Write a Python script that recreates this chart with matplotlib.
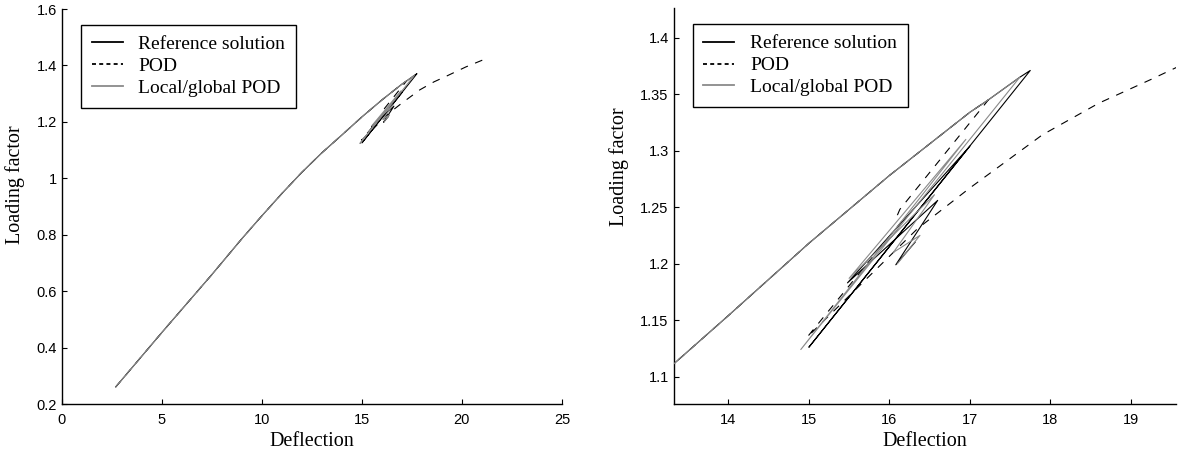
import numpy as np
import matplotlib
matplotlib.use("Agg")
import matplotlib.pyplot as plt
from matplotlib.lines import Line2D

# ---- data ----
# primary loading path (shared by all three solutions)
path_defl = [2.69, 5.0, 7.5, 9.0, 10.0, 11.0, 12.0, 13.0, 14.0, 15.0, 16.0, 17.0, 17.23, 17.62, 17.75]
path_load = [0.262, 0.455, 0.66, 0.787, 0.868, 0.947, 1.022, 1.091, 1.154, 1.218, 1.278, 1.334, 1.345, 1.365, 1.371]

# Reference solution: snap-back branch after the peak
ref_tail_defl = [17.75, 15.0, 17.0, 15.48, 16.6, 16.08, 16.32]
ref_tail_load = [1.371, 1.126, 1.304, 1.183, 1.256, 1.199, 1.219]

# POD: branch after leaving the reference path
pod_tail_defl = [17.23, 16.13, 16.10, 16.16, 14.98, 16.35, 17.0, 17.9, 18.6, 19.26, 20.2, 21.06]
pod_tail_load = [1.345, 1.248, 1.243, 1.238, 1.135, 1.231, 1.267, 1.314, 1.342, 1.3634, 1.395, 1.42]

# Local/global POD: branch after the peak
lg_tail_defl = [17.62, 14.9, 16.95, 15.5, 16.56, 16.05, 16.38, 16.1]
lg_tail_load = [1.365, 1.124, 1.31, 1.187, 1.261, 1.21, 1.225, 1.2]

labels = ["Reference solution", "POD", "Local/global POD"]
xlabel = "Deflection"
ylabel = "Loading factor"

left_xticks = [0, 5, 10, 15, 20, 25]
left_yticks = [0.2, 0.4, 0.6, 0.8, 1.0, 1.2, 1.4, 1.6]
left_yticklabels = ["0.2", "0.4", "0.6", "0.8", "1", "1.2", "1.4", "1.6"]
right_xticks = [14, 15, 16, 17, 18, 19]
right_yticks = [1.1, 1.15, 1.2, 1.25, 1.3, 1.35, 1.4]
right_yticklabels = ["1.1", "1.15", "1.2", "1.25", "1.3", "1.35", "1.4"]


def build(tail_defl, tail_load):
    pd_ = np.array(path_defl)
    pl_ = np.array(path_load)
    m = pd_ < tail_defl[0]
    return (np.concatenate([pd_[m], tail_defl]), np.concatenate([pl_[m], tail_load]))


ref_x, ref_y = build(ref_tail_defl, ref_tail_load)
pod_x, pod_y = build(pod_tail_defl, pod_tail_load)
lg_x, lg_y = build(lg_tail_defl, lg_tail_load)

GRAY = "#8a8a8a"
SERIF = ["Liberation Serif", "DejaVu Serif"]
SANS = ["Liberation Sans", "DejaVu Sans"]

fig = plt.figure(figsize=(11.78, 4.55), dpi=100)
axL = fig.add_axes([0.0526, 0.1112, 0.4244, 0.869])
axR = fig.add_axes([0.5718, 0.1114, 0.4265, 0.8703])


def draw(ax, ylab_coords):
    ax.plot(ref_x, ref_y, color="black", lw=0.8, zorder=3)
    l, = ax.plot(pod_x, pod_y, color="black", lw=0.8, zorder=2)
    l.set_dashes((7, 7))
    ax.plot(lg_x, lg_y, color=GRAY, lw=0.8, zorder=4)
    for s in ("top", "right"):
        ax.spines[s].set_visible(False)
    for s in ("left", "bottom"):
        ax.spines[s].set_linewidth(1.0)
    ax.tick_params(direction="in", length=3.5, width=0.8)
    ax.tick_params(axis="x", pad=6.5)
    ax.tick_params(axis="y", pad=3.5)
    ax.set_xlabel(xlabel, family=SERIF, fontsize=14.5, labelpad=3)
    ax.set_ylabel(ylabel, family=SERIF, fontsize=14.5)
    ax.yaxis.set_label_coords(*ylab_coords)
    handles = [Line2D([], [], color="black", lw=1.3),
               Line2D([], [], color="black", lw=1.3, dashes=(2.2, 1.8)),
               Line2D([], [], color=GRAY, lw=1.3)]
    leg = ax.legend(handles, labels, loc="upper left", bbox_to_anchor=(0.038, 0.96),
                    prop={"family": SERIF, "size": 14}, frameon=True, fancybox=False,
                    edgecolor="black", framealpha=1, handlelength=1.6, handletextpad=0.8,
                    labelspacing=0.22, borderpad=0.55, borderaxespad=0)
    leg.get_frame().set_linewidth(1.0)


draw(axL, (-0.074, 0.555))
axL.set_xlim(0, 25)
axL.set_ylim(0.2, 1.6)
axL.set_xticks(left_xticks)
axL.set_yticks(left_yticks)
axL.set_yticklabels(left_yticklabels)

draw(axR, (-0.088, 0.60))
axR.set_xlim(13.32, 19.56)
axR.set_ylim(1.0755, 1.426)
axR.set_xticks(right_xticks)
axR.set_yticks(right_yticks)
axR.set_yticklabels(right_yticklabels)

for ax in (axL, axR):
    for t in ax.get_xticklabels() + ax.get_yticklabels():
        t.set_family(SANS)
        t.set_fontsize(10.5)

fig.savefig("out.png", dpi=100)
